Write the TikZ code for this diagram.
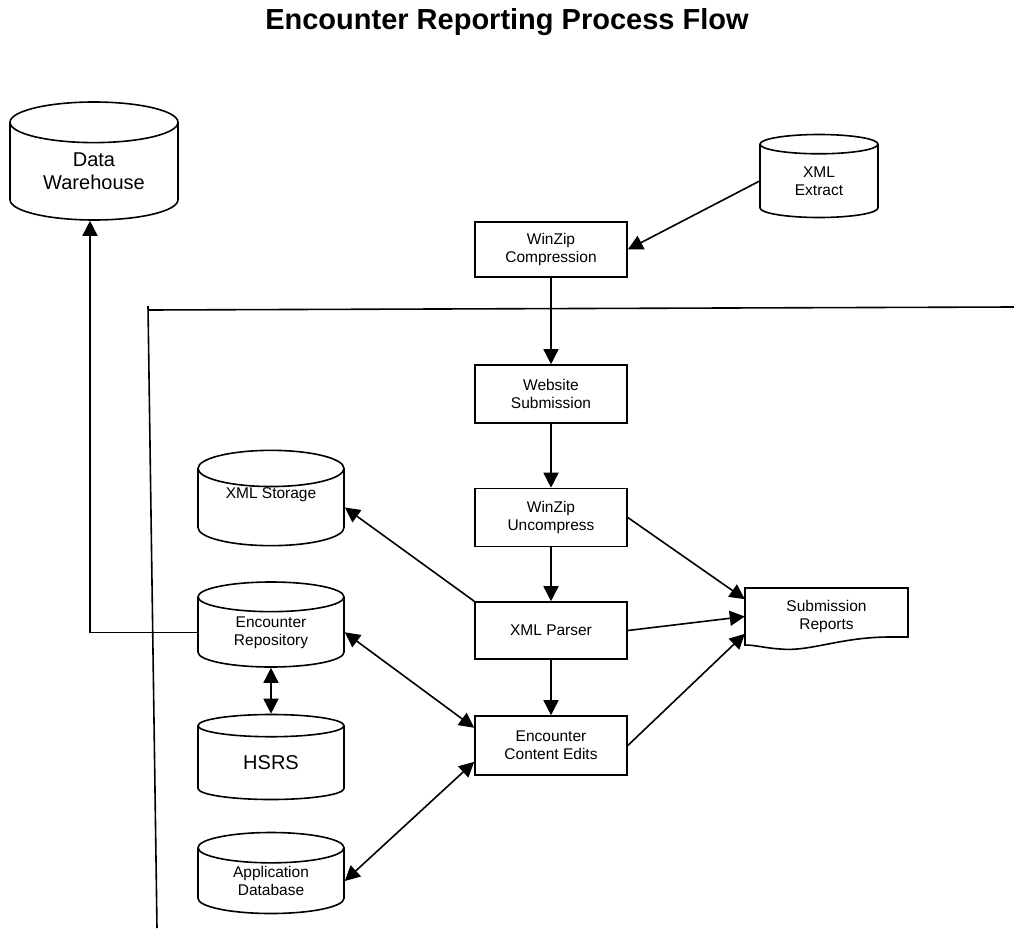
\documentclass[tikz,border=0pt]{standalone}
\usepackage{fontspec}
\setmainfont{Liberation Sans}
\usetikzlibrary{shapes.geometric,arrows.meta}

\begin{document}
\begin{tikzpicture}[x=1pt,y=1pt,yscale=-1,xscale=1,
		procbox/.style={draw, line width=1.6pt, fill=white, minimum width=152pt, minimum height=57pt, inner sep=1pt, align=center, font=\fontsize{15.5}{18}\selectfont},
		storebox/.style={draw, line width=1.6pt, fill=white, cylinder, shape border rotate=90, aspect=0.4, anchor=shape center, inner sep=0pt, align=center, font=\fontsize{15.5}{18}\selectfont},
		flow/.style={line width=1.6pt, -{Triangle[length=15pt,width=15pt]}},
		twoway/.style={line width=1.6pt, {Triangle[length=15pt,width=15pt]}-{Triangle[length=15pt,width=15pt]}}]
		\useasboundingbox (0,0) rectangle (1014,934);

		% Title on top
		\node (title) at (507,22) {\fontsize{29}{34}\selectfont\bfseries Encounter Reporting Process Flow};

		% Boundary lines
		\draw[line width=1.6pt] (148,306) -- (157,928);
		\draw[line width=1.6pt] (148,310) -- (1014,307);

		% Data stores
		\node[storebox, minimum width=168pt, minimum height=118pt, font=\fontsize{20}{23}\selectfont] (dw) at (94,161) {Data\\Warehouse};
		\node[storebox, minimum width=118pt, minimum height=83pt] (extract) at (819,176) {XML\\Extract};
		\node[storebox, minimum width=146pt, minimum height=90pt] (storage) at (271,498) {XML Storage\\[6pt]\strut};
		\node[storebox, minimum width=146pt, minimum height=85pt] (repo) at (271,624.5) {Encounter\\Repository};
		\node[storebox, minimum width=146pt, minimum height=85pt, font=\fontsize{20}{23}\selectfont] (hsrs) at (271,757) {HSRS};
		\node[storebox, minimum width=146pt, minimum height=81pt] (appdb) at (271,873) {Application\\Database};

		% Process boxes
		\node[procbox, minimum height=55pt] (compress) at (551,249.5) {WinZip\\Compression};
		\node[procbox, minimum height=58pt] (website) at (551,394) {Website\\Submission};
		\node[procbox, minimum height=58pt] (uncompress) at (551,517.5) {WinZip\\Uncompress};
		\node[procbox] (parser) at (551,630.5) {XML Parser};
		\node[procbox, minimum height=59pt] (edits) at (551,745.5) {Encounter\\Content Edits};

		% Submission Reports document
		\draw[line width=1.6pt, fill=white] (745,588) -- (908,588) -- (908,637) -- (890,637)
		.. controls (840,637) and (810,652) .. (780,649) .. controls (765,648) and (755,645) .. (745,645) -- cycle;
		\node[minimum width=163pt, minimum height=57pt, align=center, font=\fontsize{15.5}{18}\selectfont] (reports) at (826.5,616.5) {Submission\\Reports};

		% Main flow
		\draw[flow] (extract.west) -- (compress.east);
		\draw[flow] (compress) -- (website);
		\draw[flow] (website) -- (uncompress);
		\draw[flow] (uncompress) -- (parser);
		\draw[flow] (parser) -- (edits);

		% Into the reports
		\draw[flow] (uncompress.east) -- (reports.168);
		\draw[flow] (parser.east) -- (reports.west);
		\draw[flow] (edits.east) -- (reports.192);

		% Stores
		\draw[flow] (parser.north west) -- (storage.east);
		\draw[twoway] (repo.east) -- (edits.167);
		\draw[twoway] (appdb.east) -- (edits.192);
		\draw[twoway] (repo) -- (hsrs);
		\coordinate (dwline) at (90,632);
		\draw[flow] (repo.west) -- (repo.west -| dwline) -- (dwline |- dw.south);
	\end{tikzpicture}
\end{document}
